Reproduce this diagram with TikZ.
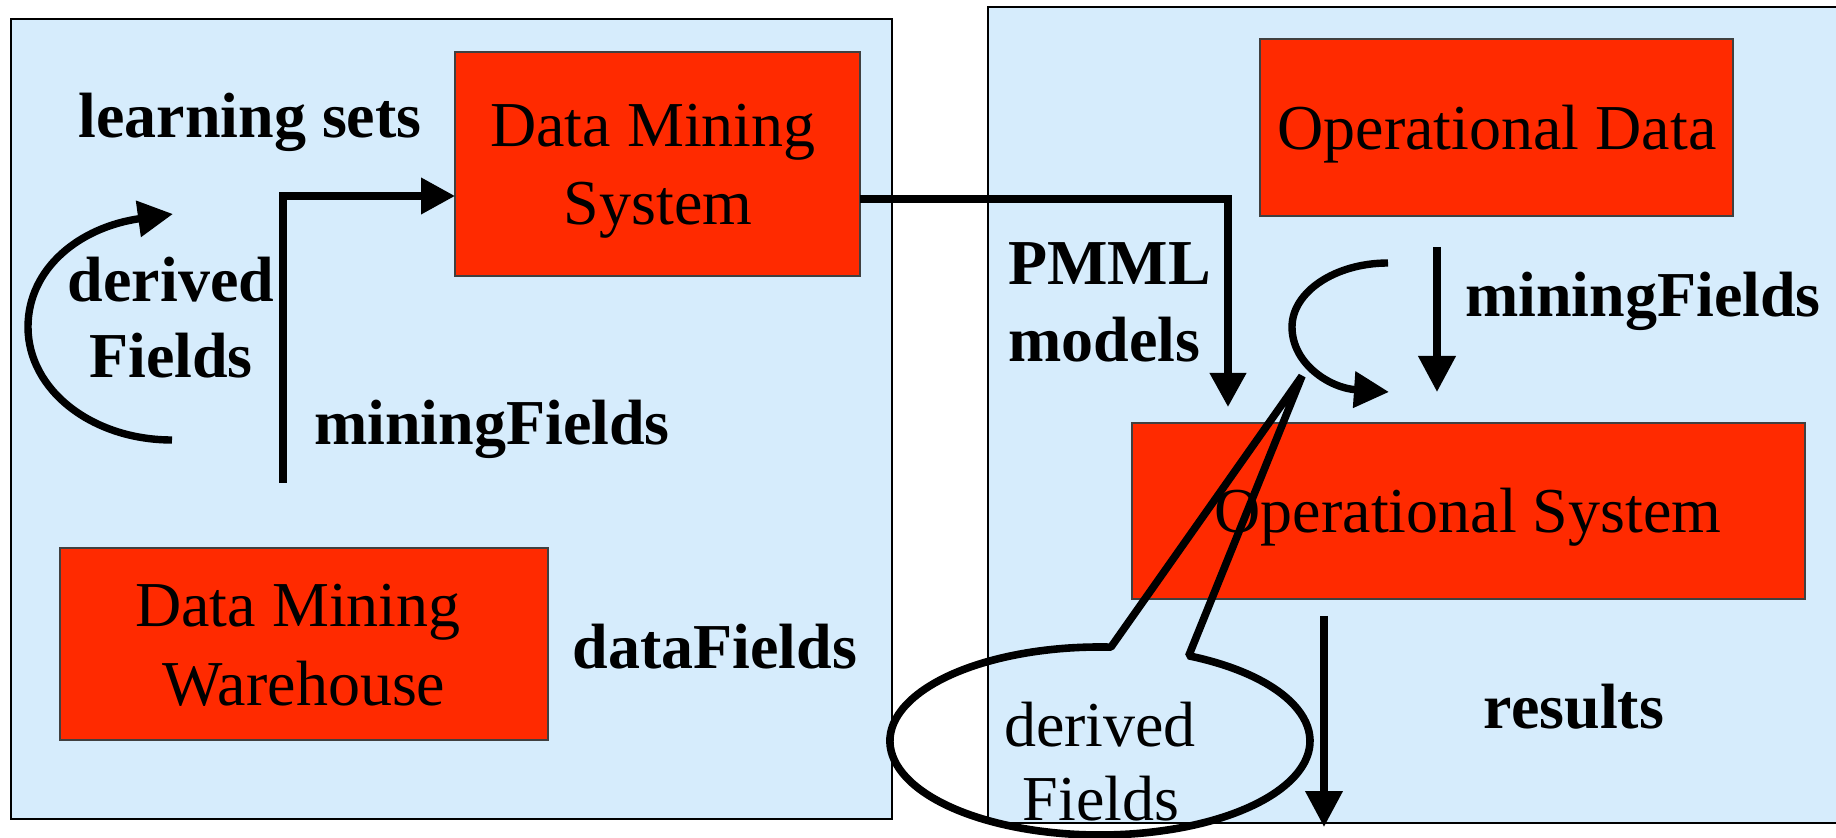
\documentclass[tikz,border=0pt]{standalone}
\usepackage{fontspec}
\setmainfont{Liberation Serif}
\usetikzlibrary{arrows.meta,fit}
\definecolor{panelblue}{RGB}{214,236,252}
\definecolor{boxred}{RGB}{255,42,0}
\begin{document}
\begin{tikzpicture}[x=0.5pt,y=0.5pt,
  panelbox/.style={draw=black,line width=1pt,fill=panelblue,inner sep=0pt,outer sep=0pt},
  redbox/.style={draw=black!75,line width=1pt,fill=boxred,inner sep=0pt,outer sep=0pt},
  lbl/.style={font=\fontsize{32}{39}\selectfont,inner sep=0pt,anchor=base},
  blbl/.style={lbl,font=\fontsize{32}{39}\selectfont\bfseries},
  thickarrow/.style={line width=3.6pt,-{Triangle[length=17pt,width=17.5pt]}},
  thinarrow/.style={line width=3.6pt,-{Triangle[length=18pt,width=18pt]}},
  curvearrow/.style={line width=3.7pt,-{Triangle[length=17.5pt,width=17.5pt]}},
  callout/.style={line width=3.8pt,line join=bevel}
]
\useasboundingbox (0,0) rectangle (1836,-838);
\clip (0,0) rectangle (1836,-838);
% panels
\node[panelbox,fit={(11,-19)(892,-819)}] (lpanel) {};
\node[panelbox,fit={(988,-7)(1850,-823)}] (rpanel) {};
% red boxes
\node[redbox,fit={(455,-52)(860,-276)}] (dms) {};
\node[redbox,fit={(60,-548)(548,-740)}] (dmw) {};
\node[redbox,fit={(1260,-39)(1733,-216)}] (opdata) {};
\node[redbox,fit={(1132,-423)(1805,-599)}] (opsys) {};
% box texts
\node[lbl] (dmsA) at (653,-147) {Data Mining};
\node[lbl] (dmsB) at (658,-225) {System};
\node[lbl] (dmwA) at (298,-627) {Data Mining};
\node[lbl] (dmwB) at (304,-705) {Warehouse};
\node[lbl] (opdataT) at (1497,-150) {Operational Data};
\node[lbl] (opsysT) at (1468,-533) {Operational System};
% bold labels
\node[blbl] (lsets) at (250,-138) {learning sets};
\node[blbl] (derA) at (171,-302) {derived};
\node[blbl] (derB) at (171,-378) {Fields};
\node[blbl] (mfL) at (492,-445) {miningFields};
\node[blbl] (dataF) at (715,-669) {dataFields};
\node[blbl,anchor=base west] (pmmlA) at (1008,-285) {PMML};
\node[blbl,anchor=base west] (pmmlB) at (1008,-362) {models};
\node[blbl] (mfR) at (1643,-317) {miningFields};
\node[blbl] (res) at (1574,-728) {results};
% connectors
\path (dms.west) ++(0,-32) coordinate (dmsin);
\coordinate (lvs) at (283,-483);
\draw[thickarrow] (lvs) |- (dmsin);
\path (dms.east) ++(0,-35) coordinate (dmsout);
\coordinate (pmmlend) at (1228,-407);
\draw[thickarrow] (dmsout) -| (pmmlend);
\coordinate (mfs) at (1437,-247);
\coordinate (mfe) at (1437,-392);
\draw[thinarrow] (mfs) -- (mfe);
\coordinate (rs) at (1324,-616);
\coordinate (re) at (1324,-827);
\draw[thinarrow] (rs) -- (re);
% curved arrows
\coordinate (lcs) at (172,-440);
\coordinate (lce) at (173,-214);
\draw[curvearrow] (lcs) .. controls (92,-440) and (28,-390) .. (28,-327)
  .. controls (28,-268) and (80,-227) .. (lce);
\coordinate (rcs) at (1388,-263);
\coordinate (rce) at (1389,-392);
\draw[curvearrow] (rcs) .. controls (1335,-263) and (1292,-292) .. (1292,-327)
  .. controls (1292,-364) and (1330,-388) .. (rce);
% callout
\coordinate (ctip) at (1302,-376);
\draw[callout] (1188.7,-655.8) arc[start angle=65,end angle=-273,x radius=105pt,y radius=47pt] -- (ctip) -- cycle;
\node[lbl] (calA) at (1100,-747) {derived};
\node[lbl] (calB) at (1101,-820) {Fields};
\end{tikzpicture}
\end{document}
